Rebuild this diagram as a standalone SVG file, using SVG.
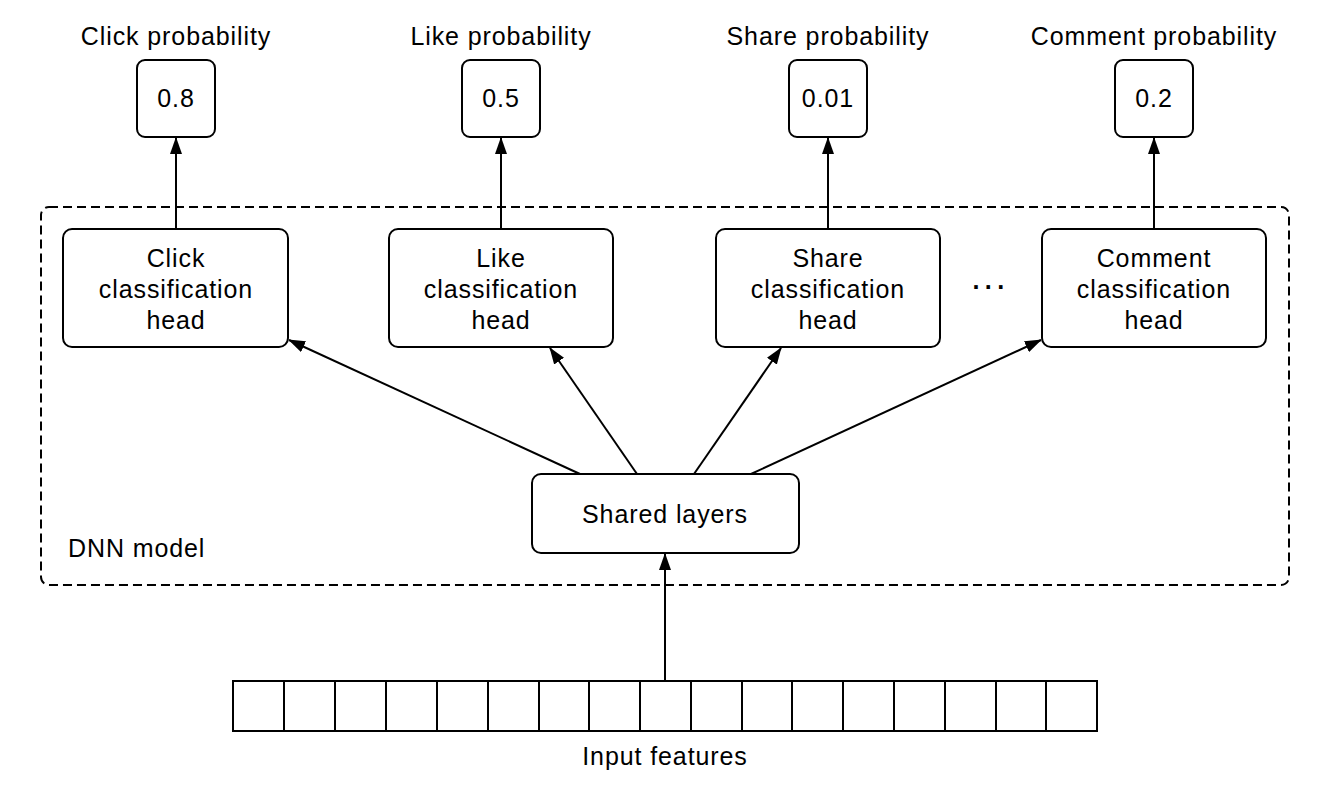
<svg xmlns="http://www.w3.org/2000/svg" width="1320" height="788" viewBox="0 0 1320 788">
<style>
text{font-family:"Liberation Sans",Arial,sans-serif;font-size:25px;letter-spacing:0.9px;fill:#000;text-anchor:middle}
.box{fill:#fff;stroke:#000;stroke-width:2}
.cell{fill:#fff;stroke:#000;stroke-width:2}
.edge{stroke:#000;stroke-width:2;fill:none;marker-end:url(#ah)}
.dash{fill:none;stroke:#000;stroke-width:2;stroke-dasharray:9 5}
</style>
<defs>
<marker id="ah" viewBox="0 0 17 13" refX="16" refY="6.5" markerWidth="17" markerHeight="13" markerUnits="userSpaceOnUse" orient="auto">
<path d="M0,0.5 L17,6.5 L0,12.5 Z" fill="#000"/>
</marker>
</defs>
<rect width="1320" height="788" fill="#fff"/>
<g id="dnn-model">
<rect class="dash" x="41" y="207" width="1248" height="378" rx="8"/>
<text x="68" y="557" style="text-anchor:start">DNN model</text>
</g>
<g id="connectors">
<line class="edge" x1="176" y1="229" x2="176" y2="138"/>
<line class="edge" x1="501" y1="229" x2="501" y2="138"/>
<line class="edge" x1="828" y1="229" x2="828" y2="138"/>
<line class="edge" x1="1154" y1="229" x2="1154" y2="138"/>
<line class="edge" x1="580" y1="474" x2="289" y2="340"/>
<line class="edge" x1="637" y1="474" x2="550" y2="348"/>
<line class="edge" x1="694" y1="474" x2="781" y2="348"/>
<line class="edge" x1="751" y1="474" x2="1041" y2="340"/>
<line class="edge" x1="665" y1="681" x2="665" y2="554"/>
</g>
<g id="out-click">
<text x="176" y="45">Click probability</text>
<rect class="box" x="137" y="60" width="78" height="77" rx="8"/>
<text x="176" y="107">0.8</text>
</g>
<g id="out-like">
<text x="501" y="45">Like probability</text>
<rect class="box" x="462" y="60" width="78" height="77" rx="8"/>
<text x="501" y="107">0.5</text>
</g>
<g id="out-share">
<text x="828" y="45">Share probability</text>
<rect class="box" x="789" y="60" width="78" height="77" rx="8"/>
<text x="828" y="107">0.01</text>
</g>
<g id="out-comment">
<text x="1154" y="45">Comment probability</text>
<rect class="box" x="1115" y="60" width="78" height="77" rx="8"/>
<text x="1154" y="107">0.2</text>
</g>
<g id="head-click">
<rect class="box" x="63" y="229" width="225" height="118" rx="9"/>
<text x="176" y="267">Click</text>
<text x="176" y="298">classification</text>
<text x="176" y="329">head</text>
</g>
<g id="head-like">
<rect class="box" x="389" y="229" width="224" height="118" rx="9"/>
<text x="501" y="267">Like</text>
<text x="501" y="298">classification</text>
<text x="501" y="329">head</text>
</g>
<g id="head-share">
<rect class="box" x="716" y="229" width="224" height="118" rx="9"/>
<text x="828" y="267">Share</text>
<text x="828" y="298">classification</text>
<text x="828" y="329">head</text>
</g>
<g id="ellipsis">
<text x="991" y="296" style="letter-spacing:4px;font-weight:bold">···</text>
</g>
<g id="head-comment">
<rect class="box" x="1042" y="229" width="224" height="118" rx="9"/>
<text x="1154" y="267">Comment</text>
<text x="1154" y="298">classification</text>
<text x="1154" y="329">head</text>
</g>
<g id="shared-layers">
<rect class="box" x="532" y="474" width="267" height="79" rx="9"/>
<text x="665" y="523">Shared layers</text>
</g>
<g id="input-features">
<rect class="cell" x="233" y="681" width="864" height="50"/>
<path stroke="#000" stroke-width="2" d="M284,681V731M335,681V731M386,681V731M437,681V731M488,681V731M539,681V731M589,681V731M640,681V731M691,681V731M742,681V731M792,681V731M843,681V731M894,681V731M945,681V731M996,681V731M1046,681V731"/>
<text x="665" y="765">Input features</text>
</g>
</svg>
